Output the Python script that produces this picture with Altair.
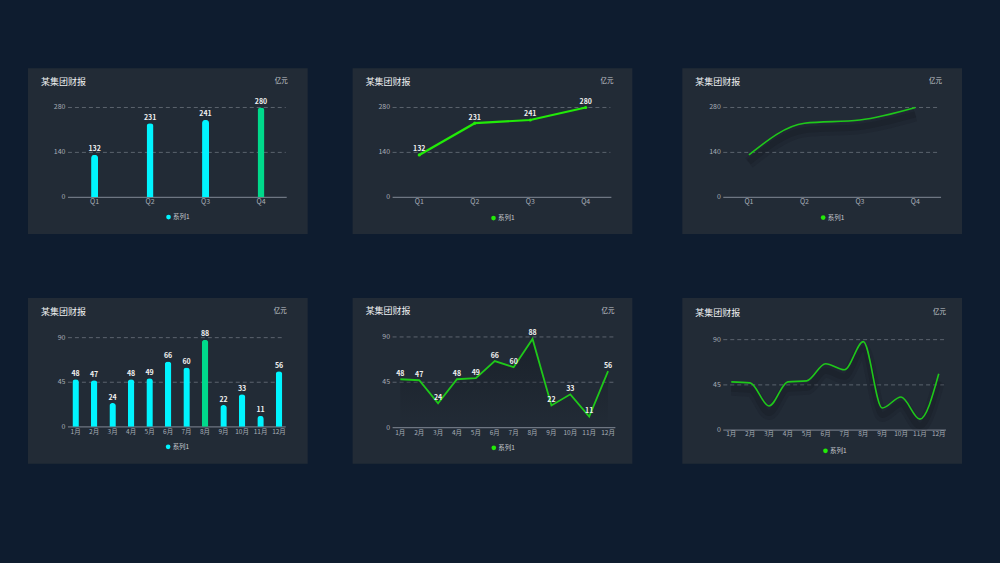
import altair as alt
import pandas as pd

TITLE = "某集团财报"
UNIT = "亿元"
SERIES = "系列1"

quarters = ["Q1", "Q2", "Q3", "Q4"]
q_values = [132, 231, 241, 280]
q_ticks = [0, 140, 280]

months = ["1月", "2月", "3月", "4月", "5月", "6月", "7月", "8月", "9月", "10月", "11月", "12月"]
m_values = [48, 47, 24, 48, 49, 66, 60, 88, 22, 33, 11, 56]
m_ticks = [0, 45, 90]

FONT = "Noto Sans CJK SC"
BG = "#0e1c2f"
PANEL = "#222b36"
GRID = "#5b636e"
AXIS = "#6e7682"
LABEL = "#a7aeb6"
CYAN = "#00f4ff"
MINT = "#00d98b"
GREEN_BRIGHT = "#22ea08"
GREEN = "#1fc81a"
SHADOW = "#10151c"


def panel(cats, vals, ticks, kind, lay):
    df = pd.DataFrame({"cat": cats, "v": vals, "hi": [v == max(vals) for v in vals]})
    tdf = pd.DataFrame({"t": ticks})
    xs = alt.Scale(type="point", domain=cats, range=[lay["x0"], lay["x1"]], padding=0)
    ys = alt.Scale(domain=[0, ticks[-1]], range=[lay["yb"], lay["yt"]], nice=False, zero=True)
    X = alt.X("cat:N", scale=xs, axis=None, sort=cats)
    Y = alt.Y("v:Q", scale=ys, axis=None)
    YT = alt.Y("t:Q", scale=ys, axis=None)

    layers = []
    grid = alt.Chart(tdf).transform_filter("datum.t > 0").mark_rule(
        color=GRID, strokeDash=[4, 3], strokeWidth=1
    ).encode(y=YT, x=alt.value(lay["g0"]), x2=alt.value(lay["g1"]))
    base = alt.Chart(tdf).transform_filter("datum.t == 0").mark_rule(
        color=AXIS, strokeWidth=1.2
    ).encode(y=YT, x=alt.value(lay["g0"]), x2=alt.value(lay["g1"] + 1))
    ylab = alt.Chart(tdf).mark_text(
        align="right", baseline="middle", font=FONT, fontSize=7, color=LABEL
    ).encode(y=YT, x=alt.value(lay["g0"] - 2.5), text="t:Q")
    xlab = alt.Chart(df).mark_text(
        align="center", baseline="middle", font=FONT, fontSize=lay["xf"], color=LABEL
    ).encode(x=X, y=alt.value(lay["xl"]), text="cat:N")
    layers += [grid, base, ylab, xlab]

    legend_color = GREEN_BRIGHT
    if kind == "bar":
        legend_color = CYAN
        bars = alt.Chart(df).mark_bar(
            width=lay["bw"], cornerRadiusTopLeft=3, cornerRadiusTopRight=3
        ).encode(
            x=X, y=Y,
            color=alt.condition("datum.hi", alt.value(MINT), alt.value(CYAN)),
        )
        layers.append(bars)
    elif kind == "line":
        if lay.get("area"):
            area = alt.Chart(df).mark_area(
                color=alt.Gradient(
                    gradient="linear",
                    stops=[alt.GradientStop(color="rgba(18,24,31,0.5)", offset=0),
                           alt.GradientStop(color="rgba(18,24,31,0)", offset=1)],
                    x1=1, x2=1, y1=0, y2=1,
                )
            ).encode(x=X, y=Y)
            layers.append(area)
        line = alt.Chart(df).mark_line(
            color=lay["lc"], strokeWidth=lay["lw"]
        ).encode(x=X, y=Y)
        layers.append(line)
        if lay.get("points"):
            pts = alt.Chart(df).mark_point(
                filled=True, size=10, color=lay["lc"], opacity=1
            ).encode(x=X, y=Y)
            layers.append(pts)
    else:  # smooth
        for w, op, off in [(12, 0.16, 8), (6, 0.22, 7)]:
            sh = alt.Chart(df).mark_line(
                interpolate="monotone", color=SHADOW, strokeWidth=w, opacity=op, yOffset=off
            ).encode(x=X, y=Y)
            layers.append(sh)
        line = alt.Chart(df).mark_line(
            interpolate="monotone", color=GREEN, strokeWidth=1.6
        ).encode(x=X, y=Y)
        layers.append(line)

    if kind != "smooth":
        vlab = alt.Chart(df).mark_text(
            align="center", baseline="bottom", dy=-2.5, font=FONT, fontSize=7,
            fontWeight="bold", color="#f0f0f0"
        ).encode(x=X, y=Y, text="v:Q")
        layers.append(vlab)

    info = pd.DataFrame({"title": [TITLE], "unit": [UNIT], "series": [SERIES]})
    title = alt.Chart(info).mark_text(
        align="left", baseline="middle", font=FONT, fontSize=9, color="#eef0f2"
    ).encode(x=alt.value(13), y=alt.value(lay["ty"]), text="title:N")
    unit = alt.Chart(info).mark_text(
        align="right", baseline="middle", font=FONT, fontSize=6.5, color="#c4c9cf"
    ).encode(x=alt.value(lay["ux"]), y=alt.value(lay["uy"]), text="unit:N")
    dot = alt.Chart(info).mark_circle(size=22, color=legend_color, opacity=1).encode(
        x=alt.value(lay["lx"]), y=alt.value(lay["ly"])
    )
    leg = alt.Chart(info).mark_text(
        align="left", baseline="middle", font=FONT, fontSize=6.5, color="#c4c9cf"
    ).encode(x=alt.value(lay["lx"] + 4.5), y=alt.value(lay["ly"]), text="series:N")
    layers += [title, unit, dot, leg]

    return alt.layer(*layers).properties(width=280, height=166)


top = dict(x0=66.7, x1=233.3, yb=129.2, yt=39.3, g0=40, g1=258, xl=133.5, xf=7,
           ly=149, lx=140.7, ty=13.5, uy=13, ux=260, bw=7)
L1 = dict(top)
L2 = dict(top, lx=141, ly=150, ux=261, lc=GREEN_BRIGHT, lw=2.2, points=True)
L3 = dict(top, g0=41, ly=149.5, lx=141)
L4 = dict(x0=47.7, x1=251.3, yb=129, yt=39.7, g0=40, g1=257, xl=134.5, xf=6.5,
          ly=149, lx=140.3, ty=14, uy=13, ux=259, bw=6.5)
L5 = dict(x0=47.7, x1=255.7, yb=129.7, yt=39, g0=40, g1=262, xl=135.5, xf=6.5,
          ly=150, lx=141.3, ty=13.5, uy=13, ux=262, lc=GREEN, lw=1.8, area=True)
L6 = dict(x0=49, x1=256.7, yb=132.3, yt=41.7, g0=41, g1=263, xl=136.5, xf=6.5,
          ly=153, lx=143.3, ty=15, uy=14, ux=264)

p1 = panel(quarters, q_values, q_ticks, "bar", L1)
p2 = panel(quarters, q_values, q_ticks, "line", L2)
p3 = panel(quarters, q_values, q_ticks, "smooth", L3)
p4 = panel(months, m_values, m_ticks, "bar", L4)
p5 = panel(months, m_values, m_ticks, "line", L5)
p6 = panel(months, m_values, m_ticks, "smooth", L6)

row1 = alt.hconcat(p1, alt.hconcat(p2, p3, spacing=50), spacing=45)
row2 = alt.hconcat(p4, alt.hconcat(p5, p6, spacing=50), spacing=45)

chart = alt.vconcat(row1, row2, spacing=64).properties(
    background=BG,
    padding={"left": 28, "top": 68, "right": 37, "bottom": 99},
).configure_view(fill=PANEL, stroke=None)

chart.save("out.html", embed_options={"renderer": "svg", "actions": False})
